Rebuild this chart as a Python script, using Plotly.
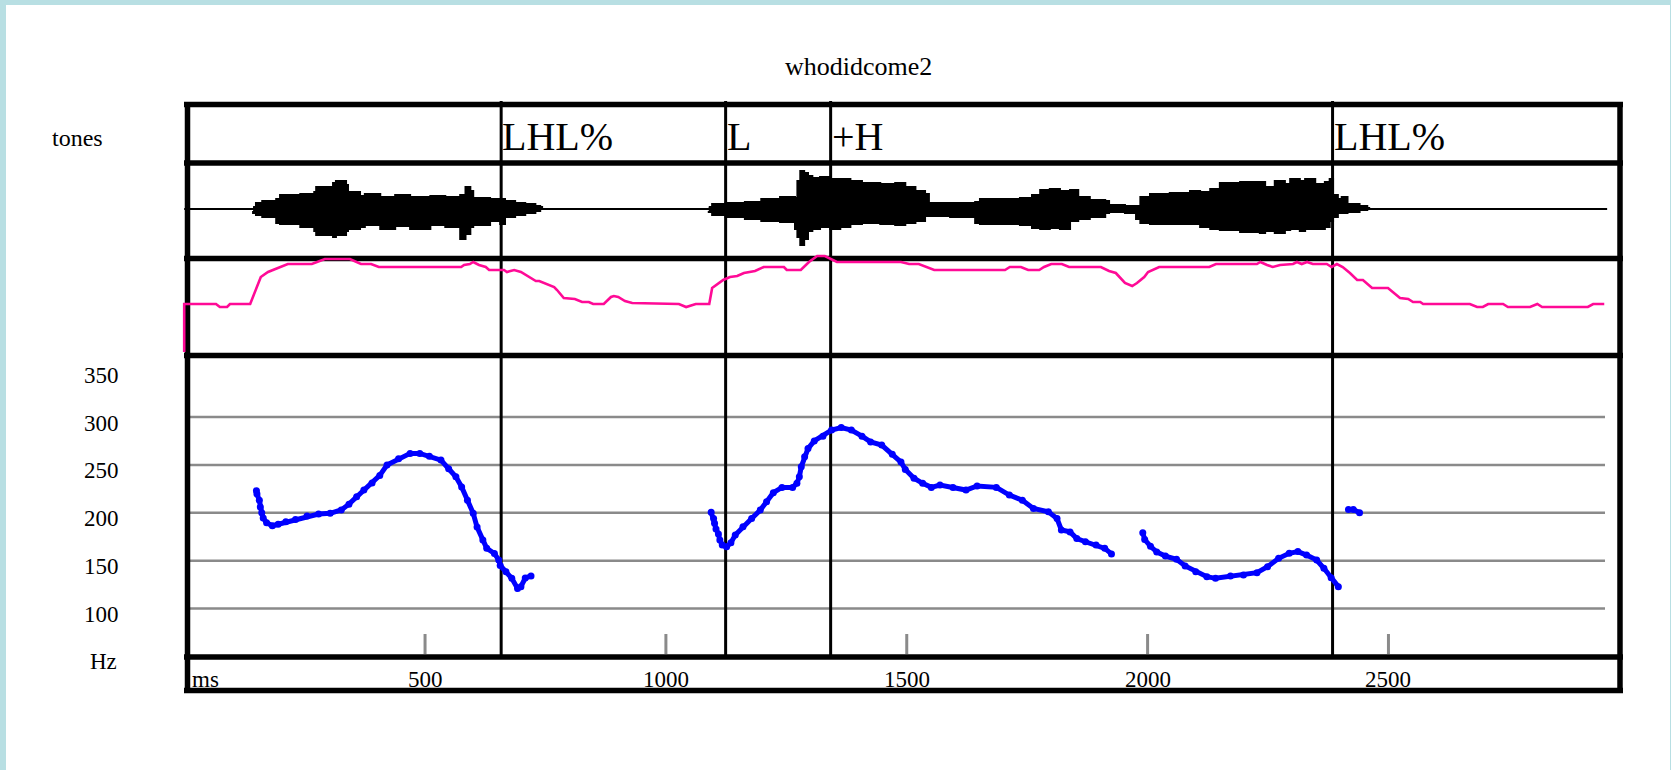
import plotly.graph_objects as go

# ---------------------------------------------------------------- data
title = "whodidcome2"

# tone tier: boundary times (ms) and labels
tone_times = [658, 1124, 1342, 2384]
tone_labels = ["LHL%", "L", "+H", "LHL%"]

# waveform envelope (ms, upper / lower amplitude, arbitrary units)
wave1_t = [143, 149, 162, 191, 199, 241, 270, 274, 309, 315, 336, 340, 365, 375, 407,
           438, 469, 511, 542, 573, 584, 594, 600, 635, 656, 666, 687, 708, 729, 739, 743]
wave1_up = [2, 6, 8, 10, 14, 15, 17, 22, 26, 28, 24, 17, 13, 15, 12,
            14, 12, 13, 12, 14, 22, 18, 11, 10, 10, 8, 6, 5, 3, 2, 0]
wave1_dn = [2, 4, 6, 8, 14, 15, 18, 22, 26, 28, 26, 22, 20, 18, 16,
            20, 17, 20, 16, 18, 30, 25, 18, 16, 12, 15, 8, 6, 4, 2, 0]

wave2_t = [1089, 1096, 1124, 1164, 1198, 1237, 1268, 1273, 1279, 1287, 1295, 1304, 1320,
           1341, 1362, 1383, 1407, 1445, 1476, 1497, 1518, 1538, 1546, 1590, 1642, 1652,
           1694, 1735, 1760, 1777, 1797, 1818, 1839, 1856, 1880, 1912, 1920, 1953, 1976,
           1985, 2005, 2046, 2088, 2109, 2130, 2150, 2192, 2233, 2244, 2264, 2285, 2296,
           2316, 2327, 2348, 2368, 2378, 2385, 2395, 2403, 2415, 2440, 2456, 2460]
wave2_up = [2, 5, 6, 7, 10, 12, 11, 28, 38, 36, 33, 31, 32,
            30, 30, 28, 26, 25, 26, 22, 18, 15, 6, 6, 7, 10,
            10, 11, 14, 19, 20, 18, 19, 12, 9, 8, 4, 3, 3,
            12, 15, 16, 18, 17, 20, 26, 27, 27, 22, 28, 25, 30,
            28, 30, 25, 27, 30, 14, 10, 12, 5, 3, 1, 0]
wave2_dn = [2, 3, 6, 8, 10, 12, 13, 20, 28, 36, 30, 22, 20,
            18, 20, 18, 15, 14, 15, 16, 14, 12, 7, 7, 8, 14,
            15, 15, 16, 19, 20, 19, 20, 12, 10, 8, 4, 3, 4,
            10, 14, 15, 15, 15, 18, 20, 21, 23, 24, 22, 24, 21,
            20, 22, 20, 20, 18, 12, 8, 4, 4, 3, 1, 0]
signal_end = 2954

# intensity contour (ms, dB)
int_t = [0, 0, 66, 74, 89, 95, 137, 159, 174, 189, 197, 211, 215, 265, 277, 292, 344, 359,
         367, 388, 404, 575, 581, 593, 600, 612, 626, 633, 664, 670, 685, 699, 716, 730,
         737, 751, 768, 774, 788, 811, 826, 840, 849, 871, 886, 892, 901, 915, 930, 1027,
         1042, 1062, 1090, 1096, 1119, 1133, 1148, 1162, 1185, 1203, 1245, 1251, 1280,
         1297, 1314, 1330, 1341, 1355, 1488, 1505, 1525, 1540, 1557, 1704, 1714, 1737,
         1752, 1775, 1785, 1800, 1822, 1837, 1903, 1920, 1934, 1953, 1968, 1978, 1993,
         2001, 2024, 2128, 2142, 2227, 2234, 2248, 2260, 2275, 2302, 2310, 2320, 2331,
         2343, 2372, 2382, 2393, 2405, 2420, 2435, 2447, 2466, 2499, 2524, 2541, 2551,
         2566, 2572, 2669, 2684, 2696, 2707, 2738, 2748, 2794, 2809, 2819, 2914, 2925, 2948]
int_db = [31.5, 55.5, 55.5, 54, 54, 55.5, 55.5, 69, 71.5, 73, 74, 75, 75.5, 75.5, 76.5, 78, 78, 76.5,
          75.5, 75.5, 74, 74, 75, 75.5, 76.5, 75, 74, 72.5, 72.5, 71.5, 72.5, 71.5, 69, 67,
          67, 65.5, 64, 62.5, 58.5, 58, 56.5, 56.5, 55.5, 55.5, 59, 59.5, 59, 57, 56, 55.5,
          54, 55.5, 55.5, 63.5, 67.5, 69, 69.5, 71, 72, 74, 74, 72.5, 72.5,
          76.5, 79.5, 79.5, 78, 76.5, 76.5, 75.5, 75.5, 74, 72.5, 72.5, 74, 74,
          72.5, 72.5, 74, 75.5, 75.5, 74, 74, 72, 71, 66, 64.5, 66, 69,
          71.5, 74, 74, 75.5, 75.5, 76.5, 75, 74, 75, 75.5, 76.5, 75.5, 76.5,
          75.5, 75.5, 74, 75.5, 74, 71, 67.5, 67.5, 63.5, 63.5, 58.5, 58, 56.5,
          56.5, 55.5, 55.5, 54, 54, 55.5, 55.5, 54, 54, 55.5, 54, 54, 55.5, 55.5]

# F0 track (ms, Hz), one list per voiced stretch
f0_seg1_t = [150, 151, 156, 158, 161, 164, 171, 183, 195, 211, 231, 255, 279, 303, 326, 342,
             358, 373, 390, 406, 421, 445, 469, 489, 509, 533, 549, 564, 576, 588, 600, 608,
             620, 628, 644, 653, 656, 668, 680, 692, 699, 708, 720]
f0_seg1_hz = [223, 219.6, 213, 206, 200, 194.5, 189.6, 186.4, 188, 190.6, 193, 196.5, 198.6,
              199.4, 203, 209, 216.7, 223.7, 231, 239, 249.8, 256.5, 262, 262, 259, 255, 246,
              237.6, 227, 213, 199.4, 185, 171.5, 162.8, 157.5, 150.6, 145, 138.4, 131.5,
              121, 122.8, 131.8, 134]
f0_seg2_t = [1094, 1099, 1101, 1104, 1109, 1112, 1117, 1126, 1135, 1144, 1160, 1178, 1196,
             1209, 1223, 1241, 1263, 1272, 1277, 1281, 1288, 1295, 1308, 1326, 1344, 1364,
             1385, 1407, 1425, 1448, 1470, 1488, 1497, 1515, 1533, 1551, 1569, 1596, 1623,
             1646, 1686, 1713, 1740, 1763, 1794, 1812, 1821, 1839, 1853, 1871, 1893, 1911, 1925]
f0_seg2_hz = [200.4, 194, 189, 183, 177.8, 171.5, 166.3, 164.5, 168.7, 176.7, 185.4, 194,
              202.8, 211.5, 221, 226.5, 226.5, 230.7, 237.6, 248, 258.4, 267, 275, 280, 286.3,
              289, 286.3, 280, 274, 270.7, 261, 253, 245.3, 236, 230.7, 226.5, 229, 226.5,
              223.7, 228, 226.5, 218.5, 213, 204.5, 201, 194, 182, 180, 173, 169.7, 166.3,
              162.8, 157]
f0_seg3_t = [1990, 1994, 2006, 2019, 2037, 2060, 2078, 2100, 2123, 2141, 2172, 2199, 2227,
             2249, 2272, 2294, 2312, 2330, 2351, 2366, 2381, 2396]
f0_seg3_hz = [179, 172, 165, 159, 154.8, 151.4, 144.4, 138.4, 133.2, 131.5, 134, 135, 137.4,
              143.6, 152.4, 157.6, 159.4, 155.8, 150.6, 142, 132, 122.8]
f0_seg4_t = [2417, 2427, 2440]
f0_seg4_hz = [203.5, 203.5, 200]

# axes
hz_ticks = [350, 300, 250, 200, 150, 100]
hz_grid = [300, 250, 200, 150, 100]
ms_ticks = [500, 1000, 1500, 2000, 2500]

# ---------------------------------------------------------------- layout geometry
W, H = 1671, 770
FONT = "Liberation Serif, Times New Roman, serif"


def px(x):
    return x / W


def py(y):
    return 1 - y / H


def axis_range(v1, p1, v2, p2, lo_px, hi_px):
    """value range for an axis spanning pixel rows/cols lo_px..hi_px, given two anchors"""
    k = (v2 - v1) / (p2 - p1)
    return [v1 + (lo_px - p1) * k, v1 + (hi_px - p1) * k]


# time axis: 0 ms at x=184.2, 500 ms per 240.85 px
x_rng = axis_range(0, 184.2, 500, 425.05, 0, W)
# waveform: zero line at y=209, one unit per pixel
wave_rng = axis_range(0, 209, 1, 208, H, 0)
# intensity: 30 dB at y=355, 2 px per dB
int_rng = axis_range(30, 355, 31, 353, H, 0)
# pitch: 100 Hz at y=608.5, 300 Hz at y=417
f0_rng = axis_range(100, 608.5, 300, 417, H, 0)

BLUE = "#0000ff"
PINK = "#ff0a96"
GRID = "#8a8a8a"

fig = go.Figure()

# waveform envelope (filled, stepped edges) and its zero line
wx, wy = [], []
for t, up, dn in ((wave1_t, wave1_up, wave1_dn), (wave2_t, wave2_up, wave2_dn)):
    wx += t + t[::-1] + [None]
    wy += up + [-d for d in dn[::-1]] + [None]
fig.add_trace(go.Scatter(x=[0, signal_end], y=[0, 0], mode="lines",
                         line=dict(color="black", width=2), yaxis="y", hoverinfo="skip"))
fig.add_trace(go.Scatter(x=wx, y=wy, mode="lines", fill="toself", fillcolor="black",
                         line=dict(color="black", width=2, shape="hv"),
                         yaxis="y", hoverinfo="skip"))

# intensity contour
fig.add_trace(go.Scatter(x=int_t, y=int_db, mode="lines",
                         line=dict(color=PINK, width=2.6), yaxis="y2"))

# F0 track
for t, hz in ((f0_seg1_t, f0_seg1_hz), (f0_seg2_t, f0_seg2_hz),
              (f0_seg3_t, f0_seg3_hz), (f0_seg4_t, f0_seg4_hz)):
    fig.add_trace(go.Scatter(x=t, y=hz, mode="lines+markers",
                             line=dict(color=BLUE, width=5),
                             marker=dict(color=BLUE, size=7), yaxis="y3"))

shapes = []
# pitch grid lines
for g in hz_grid:
    shapes.append(dict(type="line", xref="paper", yref="y3", x0=px(190), x1=px(1605),
                       y0=g, y1=g, line=dict(color=GRID, width=2.5), layer="below"))
# time tick marks
for t in ms_ticks:
    shapes.append(dict(type="line", xref="x", yref="paper", x0=t, x1=t,
                       y0=py(654), y1=py(634), line=dict(color=GRID, width=3), layer="below"))
# tone boundaries
for t in tone_times:
    shapes.append(dict(type="line", xref="x", yref="paper", x0=t, x1=t,
                       y0=py(657), y1=py(101), line=dict(color="black", width=3), layer="below"))
# panel frame and tier dividers
for y in (104.5, 163, 258.5, 355.5, 657, 690.5):
    shapes.append(dict(type="line", xref="paper", yref="paper", x0=px(184), x1=px(1623),
                       y0=py(y), y1=py(y), line=dict(color="black", width=5.5), layer="below"))
for x in (187.5, 1620):
    shapes.append(dict(type="line", xref="paper", yref="paper", x0=px(x), x1=px(x),
                       y0=py(102), y1=py(693), line=dict(color="black", width=5.5), layer="below"))
# window frame
FRAME = "#b8dfe3"
for x0, y0, x1, y1 in ((0, 0, W, 5), (0, 0, 6, H), (1670, 0, W, H)):
    shapes.append(dict(type="rect", xref="paper", yref="paper", x0=px(x0), x1=px(x1),
                       y0=py(y1), y1=py(y0), fillcolor=FRAME, line=dict(width=0),
                       layer="above"))

ann = []
ann.append(dict(text=title, xref="paper", yref="paper", x=px(858), y=py(66),
                xanchor="center", yanchor="middle", showarrow=False,
                font=dict(family=FONT, size=26, color="black")))
ann.append(dict(text="tones", xref="paper", yref="paper", x=px(50), y=py(138),
                xanchor="left", yanchor="middle", showarrow=False,
                font=dict(family=FONT, size=24, color="black")))
for t, lab in zip(tone_times, tone_labels):
    ann.append(dict(text=lab, xref="x", yref="paper", x=t, y=py(136.5), xshift=-1,
                    xanchor="left", yanchor="middle", showarrow=False,
                    font=dict(family=FONT, size=40, color="black")))
for v in hz_ticks:
    ann.append(dict(text=str(v), xref="paper", yref="y3", x=px(121), y=v, yshift=-6,
                    xanchor="right", yanchor="middle", showarrow=False,
                    font=dict(family=FONT, size=23, color="black")))
ann.append(dict(text="Hz", xref="paper", yref="y3", x=px(119), y=50, yshift=-5,
                xanchor="right", yanchor="middle", showarrow=False,
                font=dict(family=FONT, size=23, color="black")))
for t in ms_ticks:
    ann.append(dict(text=str(t), xref="x", yref="paper", x=t, y=py(679),
                    xanchor="center", yanchor="middle", showarrow=False,
                    font=dict(family=FONT, size=23, color="black")))
ann.append(dict(text="ms", xref="paper", yref="paper", x=px(190), y=py(679),
                xanchor="left", yanchor="middle", showarrow=False,
                font=dict(family=FONT, size=23, color="black")))

hidden = dict(visible=False, showgrid=False, zeroline=False, fixedrange=True)
fig.update_layout(
    width=W, height=H,
    margin=dict(l=0, r=0, t=0, b=0, pad=0),
    paper_bgcolor="white", plot_bgcolor="white",
    showlegend=False,
    xaxis=dict(range=x_rng, domain=[0, 1], **hidden),
    yaxis=dict(range=wave_rng, domain=[0, 1], **hidden),
    yaxis2=dict(range=int_rng, overlaying="y", **hidden),
    yaxis3=dict(range=f0_rng, overlaying="y", **hidden),
    shapes=shapes,
    annotations=ann,
    hovermode=False,
)

fig.write_html("out.html", config={"displayModeBar": False})
